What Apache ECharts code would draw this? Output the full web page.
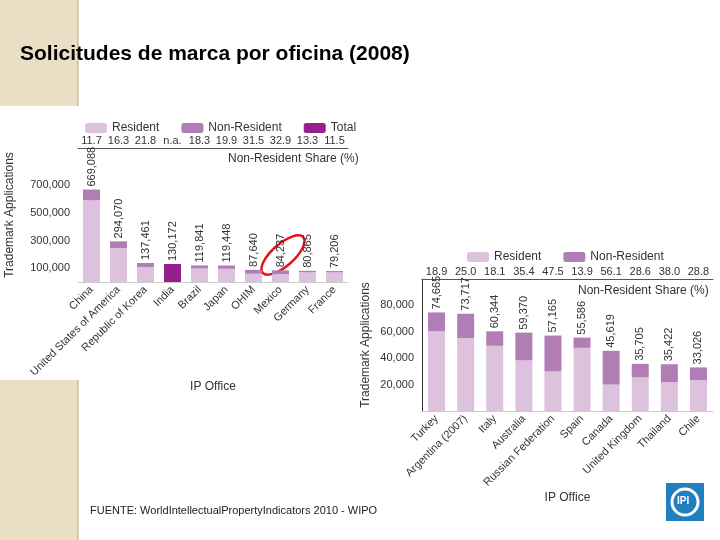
<!DOCTYPE html>
<html>
<head>
<meta charset="utf-8">
<script src="https://cdn.jsdelivr.net/npm/echarts@6/dist/echarts.min.js"></script>
<style>html,body{margin:0;padding:0;background:#fff}#main{width:720px;height:540px}</style>
</head>
<body>
<div id="main"></div>
<script>
// left chart: top 10 offices
var officesA = ['China', 'United States of America', 'Republic of Korea', 'India', 'Brazil', 'Japan', 'OHIM', 'Mexico', 'Germany', 'France'];
var totalA = [669088, 294070, 137461, 130172, 119841, 119448, 87640, 84237, 80865, 79206];
var residentA = [590800, 246100, 107500, '-', 97900, 95700, 60000, 56500, 70100, 70100];
var nonResidentA = [78288, 47970, 29961, '-', 21941, 23748, 27640, 27737, 10765, 9106];
var onlyTotalA = ['-', '-', '-', 130172, '-', '-', '-', '-', '-', '-'];
var shareA = ['11.7', '16.3', '21.8', 'n.a.', '18.3', '19.9', '31.5', '32.9', '13.3', '11.5'];

// right chart: next offices
var officesB = ['Turkey', 'Argentina (2007)', 'Italy', 'Australia', 'Russian Federation', 'Spain', 'Canada', 'United Kingdom', 'Thailand', 'Chile'];
var totalB = [74665, 73717, 60344, 59370, 57165, 55586, 45619, 35705, 35422, 33026];
var residentB = [60550, 55290, 49420, 38350, 30010, 47860, 20030, 25490, 21960, 23510];
var nonResidentB = [14115, 18427, 10924, 21020, 27155, 7726, 25589, 10215, 13462, 9516];
var shareB = ['18.9', '25.0', '18.1', '35.4', '47.5', '13.9', '56.1', '28.6', '38.0', '28.8'];

var cRes = '#dcc2dd', cNon = '#b07db4', cTot = '#941f8d';
var font = 'Liberation Sans, Arial, sans-serif';

var chart = echarts.init(document.getElementById('main'));

function valLabel(totals) {
  return {
    show: true, position: 'top', rotate: 90, align: 'left', verticalAlign: 'middle',
    distance: 3, fontSize: 11, color: '#333', fontFamily: font,
    formatter: function (p) { return totals[p.dataIndex].toLocaleString('en-US'); }
  };
}

var option = {
  animation: false,
  textStyle: { fontFamily: font },
  graphic: [
    { type: 'rect', shape: { x: 0, y: 0, width: 78, height: 106 }, style: { fill: '#eadfc4' } },
    { type: 'rect', shape: { x: 0, y: 380, width: 78, height: 160 }, style: { fill: '#eadfc4' } },
    { type: 'line', shape: { x1: 78, y1: 0, x2: 78, y2: 106 }, style: { stroke: '#b9a77e', lineWidth: 1 } },
    { type: 'line', shape: { x1: 78, y1: 380, x2: 78, y2: 540 }, style: { stroke: '#b9a77e', lineWidth: 1 } },
    { type: 'text', left: 20, top: 44, style: { text: 'Solicitudes de marca por oficina (2008)', font: 'bold 21px ' + font, fill: '#000' } },
    { type: 'text', left: 228, top: 153, style: { text: 'Non-Resident Share (%)', font: '12px ' + font, fill: '#333' } },
    { type: 'text', left: 578, top: 285, style: { text: 'Non-Resident Share (%)', font: '12px ' + font, fill: '#333' } },
    { type: 'text', left: 90, top: 505, style: { text: 'FUENTE: WorldIntellectualPropertyIndicators 2010 - WIPO', font: '11px ' + font, fill: '#222' } },
    { type: 'ellipse', shape: { cx: 283, cy: 255, rx: 11, ry: 27 }, rotation: -0.85, originX: 283, originY: 255, style: { fill: 'none', stroke: '#e0141b', lineWidth: 2.5 } },
    { type: 'rect', shape: { x: 666, y: 483, width: 38, height: 38 }, style: { fill: '#1f7fc0' } },
    { type: 'circle', shape: { cx: 685, cy: 502, r: 13 }, style: { fill: 'none', stroke: '#fff', lineWidth: 3 } },
    { type: 'text', left: 677, top: 496, style: { text: 'IPI', font: 'bold 10px ' + font, fill: '#fff' } }
  ],
  legend: [
    { data: ['Resident', 'Non-Resident', 'Total'], left: 80, top: 117, itemWidth: 22, itemHeight: 10, itemGap: 22, textStyle: { fontSize: 12, color: '#333' } },
    { data: ['Resident', 'Non-Resident'], left: 462, top: 246, itemWidth: 22, itemHeight: 10, itemGap: 22, textStyle: { fontSize: 12, color: '#333' } }
  ],
  grid: [
    { left: 78, top: 148, width: 270, height: 134 },
    { left: 422, top: 279, width: 291, height: 132 }
  ],
  xAxis: [
    { gridIndex: 0, type: 'category', data: officesA, name: 'IP Office', nameLocation: 'middle', nameGap: 78, nameTextStyle: { fontSize: 12, color: '#333' },
      axisLine: { lineStyle: { color: '#ccc' } }, axisTick: { show: false }, axisLabel: { rotate: 45, interval: 0, fontSize: 11, color: '#333', margin: 6 } },
    { gridIndex: 0, type: 'category', data: shareA, position: 'top', axisLine: { lineStyle: { color: '#555' } }, axisTick: { show: false }, axisLabel: { interval: 0, fontSize: 11, color: '#333', margin: 2 } },
    { gridIndex: 1, type: 'category', data: officesB, name: 'IP Office', nameLocation: 'middle', nameGap: 80, nameTextStyle: { fontSize: 12, color: '#333' },
      axisLine: { lineStyle: { color: '#ccc' } }, axisTick: { show: false }, axisLabel: { rotate: 45, interval: 0, fontSize: 11, color: '#333', margin: 6 } },
    { gridIndex: 1, type: 'category', data: shareB, position: 'top', axisLine: { lineStyle: { color: '#555' } }, axisTick: { show: false }, axisLabel: { interval: 0, fontSize: 11, color: '#333', margin: 2 } }
  ],
  yAxis: [
    { gridIndex: 0, type: 'value', min: 0, max: 970000, interval: 100000, name: 'Trademark Applications', nameLocation: 'middle', nameGap: 62,
      nameTextStyle: { fontSize: 12, color: '#333' }, splitLine: { show: false }, axisLine: { show: false }, axisTick: { show: false },
      axisLabel: { fontSize: 11, color: '#333', formatter: function (v) { return (v / 100000) % 2 === 1 && v < 800000 ? v.toLocaleString('en-US') : ''; } } },
    { gridIndex: 1, type: 'value', min: 0, max: 100000, interval: 20000, name: 'Trademark Applications', nameLocation: 'middle', nameGap: 50,
      nameTextStyle: { fontSize: 12, color: '#333' }, splitLine: { show: false }, axisLine: { show: true, lineStyle: { color: '#333' } }, axisTick: { show: false },
      axisLabel: { fontSize: 11, color: '#333', formatter: function (v) { return v > 0 && v < 100000 ? v.toLocaleString('en-US') : ''; } } }
  ],
  series: [
    { name: 'Resident', type: 'bar', stack: 'a', xAxisIndex: 0, yAxisIndex: 0, data: residentA, barWidth: 17, itemStyle: { color: cRes } },
    { name: 'Non-Resident', type: 'bar', stack: 'a', xAxisIndex: 0, yAxisIndex: 0, data: nonResidentA, itemStyle: { color: cNon }, label: valLabel(totalA) },
    { name: 'Total', type: 'bar', stack: 'a', xAxisIndex: 0, yAxisIndex: 0, data: onlyTotalA, itemStyle: { color: cTot }, label: valLabel(totalA) },
    { name: 'Resident', type: 'bar', stack: 'b', xAxisIndex: 2, yAxisIndex: 1, data: residentB, barWidth: 17, itemStyle: { color: cRes } },
    { name: 'Non-Resident', type: 'bar', stack: 'b', xAxisIndex: 2, yAxisIndex: 1, data: nonResidentB, itemStyle: { color: cNon }, label: valLabel(totalB) }
  ]
};
chart.setOption(option);
</script>
</body>
</html>
